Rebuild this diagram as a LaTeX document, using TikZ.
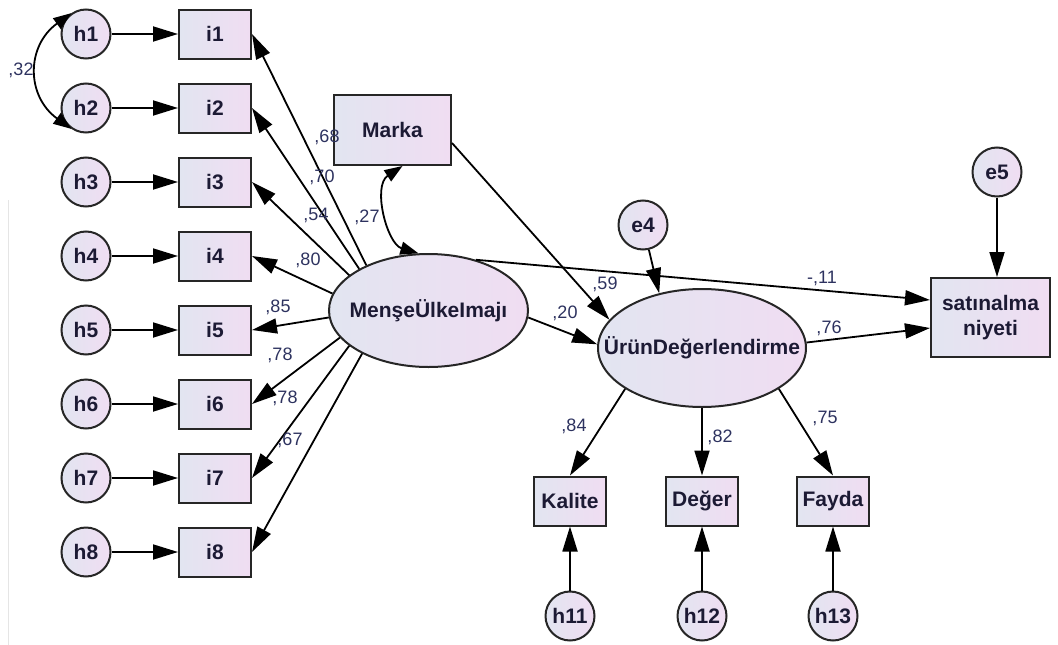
\documentclass[tikz,border=0pt]{standalone}
\usepackage{fontspec}
\setmainfont{Liberation Sans}
\usetikzlibrary{arrows.meta,shapes.geometric,calc}
\definecolor{fillL}{RGB}{226,229,241}
\definecolor{fillR}{RGB}{240,221,242}
\definecolor{ink}{RGB}{28,26,52}
\definecolor{lab}{RGB}{45,50,95}
\begin{document}
\begin{tikzpicture}[x=1pt,y=-1pt,
  base/.style={draw=black!85,line width=2pt,left color=fillL,right color=fillR,
    text=ink,font=\fontsize{21}{25}\selectfont\bfseries,inner sep=0pt},
  errc/.style={base,circle,minimum size=49pt},
  obsbox/.style={base,rectangle,minimum width=72pt,minimum height=49pt},
  latent/.style={base,ellipse},
  path/.style={line width=1.8pt,-{Triangle[length=25pt,width=15pt]}},
  cov/.style={line width=1.8pt,{Triangle[length=18pt,width=13pt]}-{Triangle[length=18pt,width=13pt]}},
  coef/.style={text=lab,font=\fontsize{18}{20}\selectfont,inner sep=0pt}
]
\useasboundingbox (0,0) rectangle (1058,645);
% thin frame line on the left
\draw[black!10,line width=1pt] (8,200) -- (8,645);

% indicators of the country-image construct with their errors
\foreach \k in {1,...,8}{
  \node[errc] (h\k) at (86,{34+74*(\k-1)}) {h\k};
  \node[obsbox] (i\k) at (215,{34+74*(\k-1)}) {i\k};
  \draw[path] (h\k) -- (i\k);
}

% latent variables and observed variables
\node[base,rectangle,minimum width=117pt,minimum height=70pt] (marka) at (392.5,130) {Marka};
\node[latent,minimum width=199pt,minimum height=113pt] (mu) at (428.5,310.5) {\makebox[0pt]{MenşeÜlkeImajı}};
\node[latent,minimum width=208pt,minimum height=118pt] (ud) at (702,348) {\makebox[0pt]{ÜrünDeğerlendirme}};
\node[base,rectangle,minimum width=119pt,minimum height=79pt,align=center] (sat) at (990.5,317.5) {satınalma\\niyeti};
\node[errc] (e4) at (643,225) {e4};
\node[errc] (e5) at (997,172) {e5};
\node[obsbox] (kal) at (570,501) {Kalite};
\node[obsbox] (deg) at (702,501) {Değer};
\node[obsbox] (fay) at (833,501) {Fayda};
\node[errc] (h11) at (570,616) {h11};
\node[errc] (h12) at (702,616) {h12};
\node[errc] (h13) at (833,616) {h13};

% loadings of the country-image construct
\draw[path] (mu.144) -- (i1.east);
\draw[path] (mu.149) -- (i2.east);
\draw[path] (mu.156) -- (i3.east);
\draw[path] (mu.170) -- (i4.east);
\draw[path] (mu.184) -- (i5.east);
\draw[path] (mu.197) -- (i6.east);
\draw[path] (mu.204) -- (i7.east);
\draw[path] (mu.213) -- (i8.east);

% structural paths
\draw[path] ($(marka.east)+(0,13)$) -- (ud.163);
\draw[path] (mu.47) -- ($(sat.west)+(0,-17.5)$);
\draw[path] (mu.356) -- (ud.178);
\draw[path] (ud.3) -- ($(sat.west)+(0,10.5)$);
\draw[path] (e4) -- (ud.128);
\draw[path] (e5) -- (e5 |- sat.north);

% loadings of the product-evaluation construct
\draw[path] (ud.208) -- (kal.north);
\draw[path] (ud.south) -- (deg.north);
\draw[path] (ud.332) -- (fay.north);
\draw[path] (h11) -- (kal);
\draw[path] (h12) -- (deg);
\draw[path] (h13) -- (fay);

% covariances
\draw[cov] (h1.125) .. controls (26,46) and (26,96) .. (h2.235);
\draw[cov] ($(marka.south)+(10,0)$) .. controls (372,186) and (387,244) .. (mu.100);

% estimates
\node[coef] (c32) at (21,70) {,32};
\node[coef] (c68) at (327,137) {,68};
\node[coef] (c70) at (322,177) {,70};
\node[coef] (c54) at (316,215) {,54};
\node[coef] (c27) at (367,217) {,27};
\node[coef] (c80) at (308,260) {,80};
\node[coef] (c85) at (278,307) {,85};
\node[coef] (c78a) at (280,355) {,78};
\node[coef] (c78b) at (285,398) {,78};
\node[coef] (c67) at (290,440) {,67};
\node[coef] (c59) at (605,284) {,59};
\node[coef] (c20) at (565,313) {,20};
\node[coef] (c11) at (822,278) {-,11};
\node[coef] (c76) at (829,328) {,76};
\node[coef] (c84) at (574,426) {,84};
\node[coef] (c82) at (720,437) {,82};
\node[coef] (c75) at (825,418) {,75};
\end{tikzpicture}
\end{document}
